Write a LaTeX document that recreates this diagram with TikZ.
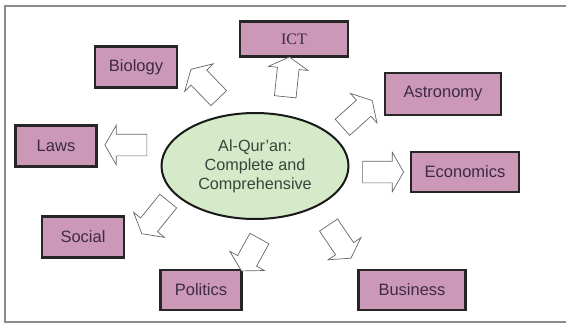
\documentclass[tikz,border=0pt]{standalone}
\usepackage{fontspec}
\setmainfont{Liberation Sans}
\newfontfamily\timesfont{Liberation Serif}
\usepackage{xcolor}
\usetikzlibrary{shapes,arrows,positioning,calc}

\definecolor{boxpink}{RGB}{203,152,184}
\definecolor{boxtext}{RGB}{62,42,70}
\definecolor{ovalgreen}{RGB}{212,234,200}
\definecolor{ovaltext}{RGB}{55,70,58}

\begin{document}
\begin{tikzpicture}[
    x=1pt, y=-1pt,
    topic/.style={rectangle, draw=black!85, line width=2.4pt, fill=boxpink, text=boxtext, align=center, inner sep=0pt, font=\fontsize{16.5}{19}\selectfont},
    core/.style={ellipse, draw=black!90, line width=2pt, fill=ovalgreen, text=ovaltext, align=center, inner sep=0pt, minimum width=187pt, minimum height=106pt, font=\fontsize{16.2}{19}\selectfont},
    fatarrow/.style={single arrow, draw=black!60, line width=0.7pt, fill=white, inner xsep=0pt, inner ysep=10.5pt, single arrow head extend=9pt, single arrow tip angle=120, minimum height=#1},
    fatarrow/.default=41pt
]

% Frame
\useasboundingbox (0,0) rectangle (566,324);
\draw[black!45, line width=1.2pt] (566,6) -- (5,6) -- (5,322) -- (566,322);

% Centre
\node[core] (quran) at (255,166) {Al-Qur'an:\\Complete and\\Comprehensive};

% Topics
\node[topic, minimum width=108pt, minimum height=35pt, font=\timesfont\fontsize{16}{18}\selectfont] (ict) at (294,39) {ICT};
\node[topic, minimum width=82pt, minimum height=41pt] (biology) at (136,67) {Biology};
\node[topic, minimum width=116pt, minimum height=42pt] (astronomy) at (443,94) {Astronomy};
\node[topic, minimum width=81pt, minimum height=41pt] (laws) at (56,146) {Laws};
\node[topic, minimum width=108pt, minimum height=40pt] (economics) at (465,172) {Economics};
\node[topic, minimum width=82pt, minimum height=41pt] (social) at (83,237) {Social};
\node[topic, minimum width=81pt, minimum height=40pt] (politics) at (201,290) {Politics};
\node[topic, minimum width=107pt, minimum height=40pt] (business) at (412,290) {Business};

% Block arrows
\node[fatarrow=40pt, rotate=84] (to-ict) at (287,80) {};
\node[fatarrow=40pt, rotate=134] (to-biology) at (207,86) {};
\node[fatarrow=40pt, rotate=42] (to-astronomy) at (355,116) {};
\node[fatarrow=42pt, rotate=180] (to-laws) at (129,145) {};
\node[fatarrow=41pt, rotate=0] (to-economics) at (380,172) {};
\node[fatarrow=42pt, rotate=231] (to-social) at (157,215) {};
\node[fatarrow=37pt, rotate=241] (to-politics) at (252,252) {};
\node[fatarrow=40pt, rotate=304] (to-business) at (338,239) {};

\end{tikzpicture}
\end{document}
